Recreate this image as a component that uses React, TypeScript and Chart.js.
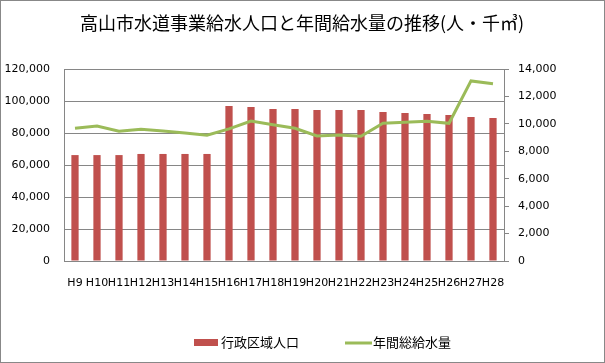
import React, { useEffect, useRef } from "react";
import { Chart, registerables } from "chart.js";

Chart.register(...registerables);

const categories = ["H9","H10","H11","H12","H13","H14","H15","H16","H17","H18","H19","H20","H21","H22","H23","H24","H25","H26","H27","H28"];
const population = [66200,66200,66200,66900,66900,66900,66900,96900,96300,95000,95000,94400,94400,94400,93100,92500,91900,91300,90000,89400];
const waterVolume = [9680,9840,9460,9600,9480,9330,9170,9630,10210,9940,9680,9120,9190,9090,10040,10110,10190,10040,13130,12930];
const leftTicks = [0,20000,40000,60000,80000,100000,120000];
const rightTicks = [0,2000,4000,6000,8000,10000,12000,14000];
const title = "高山市水道事業給水人口と年間給水量の推移(人・千㎥)";
const seriesNames = ["行政区域人口", "年間総給水量"];

const BAR = "#C0504D";
const LINE = "#9BBB59";
const GRID = "#868686";
const FONT = "'DejaVu Sans', Verdana, sans-serif";
const CJK = "'Noto Sans CJK JP', sans-serif";

const fmt = (v: number) => v.toLocaleString("en-US");

export default function App() {
  const ref = useRef<HTMLCanvasElement>(null);
  useEffect(() => {
    document.body.style.margin = "0";
    const extras = {
      id: "extras",
      afterDraw(chart: any) {
        const ctx = chart.ctx;
        ctx.save();
        // border
        ctx.strokeStyle = "#888888";
        ctx.lineWidth = 1;
        ctx.strokeRect(0.5, 0.5, 604, 362);
        // title
        ctx.fillStyle = "#000";
        ctx.font = `18px ${CJK}`;
        ctx.textAlign = "center";
        ctx.textBaseline = "middle";
        ctx.fillText(title, 302, 23);
        // legend
        ctx.font = `13px ${CJK}`;
        ctx.textAlign = "left";
        ctx.fillStyle = BAR;
        ctx.fillRect(194, 339, 24, 7);
        ctx.fillStyle = "#000";
        ctx.fillText(seriesNames[0], 221, 342.5);
        ctx.strokeStyle = LINE;
        ctx.lineWidth = 3;
        ctx.beginPath();
        ctx.moveTo(345, 343);
        ctx.lineTo(372, 343);
        ctx.stroke();
        ctx.fillText(seriesNames[1], 373, 342.5);
        ctx.restore();
      },
    };
    const chart = new Chart(ref.current!, {
      type: "bar",
      data: {
        labels: categories,
        datasets: [
          {
            type: "line",
            label: seriesNames[1],
            data: waterVolume,
            yAxisID: "y1",
            borderColor: LINE,
            backgroundColor: LINE,
            borderWidth: 3,
            pointRadius: 0,
            tension: 0,
            order: 0,
          } as any,
          {
            type: "bar",
            label: seriesNames[0],
            data: population,
            yAxisID: "y",
            backgroundColor: BAR,
            barPercentage: 0.33,
            categoryPercentage: 1,
            order: 1,
          },
        ],
      },
      options: {
        responsive: false,
        animation: false,
        layout: { padding: { top: 69, bottom: 72, left: 0, right: 0 } },
        plugins: { legend: { display: false }, title: { display: false }, tooltip: { enabled: false } },
        scales: {
          x: {
            afterFit: (s: any) => { s.height = 30; },
            grid: { display: false, drawTicks: false },
            border: { display: true, color: GRID },
            ticks: { autoSkip: false, maxRotation: 0, minRotation: 0, padding: 16, color: "#000", font: { family: FONT, size: 11 } },
          },
          y: {
            position: "left",
            min: 0,
            max: 120000,
            afterFit: (s: any) => { s.width = 64; },
            afterBuildTicks: (s: any) => { s.ticks = leftTicks.map((v) => ({ value: v })); },
            grid: { color: GRID, drawTicks: false },
            border: { display: true, color: GRID },
            ticks: { padding: 14, color: "#000", font: { family: FONT, size: 11 }, callback: (v: any) => fmt(Number(v)) },
          },
          y1: {
            position: "right",
            min: 0,
            max: 14000,
            afterFit: (s: any) => { s.width = 101; },
            afterBuildTicks: (s: any) => { s.ticks = rightTicks.map((v) => ({ value: v })); },
            grid: { drawOnChartArea: false, color: GRID, tickLength: 5 },
            border: { display: true, color: GRID },
            ticks: { padding: 9, color: "#000", font: { family: FONT, size: 11 }, callback: (v: any) => fmt(Number(v)) },
          },
        },
      },
      plugins: [extras],
    });
    return () => chart.destroy();
  }, []);
  return (
    <div style={{ width: 605, height: 363, background: "#fff" }}>
      <canvas ref={ref} width={605} height={363} style={{ display: "block" }} />
    </div>
  );
}
